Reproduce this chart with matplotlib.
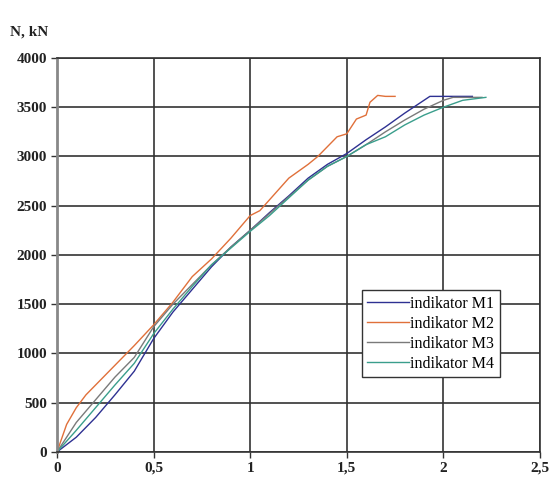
import numpy as np
import matplotlib
matplotlib.use('Agg')
import matplotlib.pyplot as plt

# displacement (mm) vs. force N (kN) for four indicators
x_m1 = [0, 0.1, 0.2, 0.3, 0.4, 0.5, 0.6, 0.7, 0.8, 0.9, 1.0, 1.1, 1.2, 1.3, 1.4, 1.5, 1.6, 1.7, 1.8, 1.93, 2.0, 2.1, 2.15]
n_m1 = [0, 150, 350, 580, 820, 1150, 1420, 1650, 1880, 2080, 2250, 2430, 2600, 2780, 2920, 3030, 3170, 3300, 3440, 3610, 3610, 3610, 3610]

x_m2 = [0, 0.05, 0.1, 0.15, 0.2, 0.3, 0.4, 0.5, 0.6, 0.7, 0.8, 0.9, 1.0, 1.05, 1.1, 1.2, 1.3, 1.35, 1.45, 1.5, 1.55, 1.6, 1.62, 1.66, 1.7, 1.75]
n_m2 = [0, 280, 450, 580, 680, 880, 1080, 1290, 1520, 1780, 1960, 2170, 2400, 2450, 2560, 2780, 2920, 3000, 3200, 3230, 3380, 3420, 3550, 3620, 3610, 3610]

x_m3 = [0, 0.1, 0.2, 0.3, 0.4, 0.5, 0.6, 0.7, 0.8, 0.9, 1.0, 1.1, 1.2, 1.3, 1.4, 1.5, 1.6, 1.7, 1.8, 1.9, 2.0, 2.05, 2.2]
n_m3 = [0, 300, 530, 760, 960, 1270, 1500, 1700, 1900, 2080, 2250, 2420, 2590, 2760, 2900, 3000, 3120, 3250, 3370, 3480, 3570, 3600, 3600]

x_m4 = [0, 0.1, 0.2, 0.3, 0.4, 0.5, 0.6, 0.7, 0.8, 0.9, 1.0, 1.1, 1.2, 1.3, 1.4, 1.5, 1.6, 1.7, 1.8, 1.9, 2.0, 2.1, 2.22]
n_m4 = [0, 220, 450, 680, 900, 1200, 1450, 1680, 1900, 2070, 2240, 2400, 2580, 2760, 2900, 3000, 3120, 3200, 3320, 3420, 3500, 3570, 3600]

labels = ['indikator M1', 'indikator M2', 'indikator M3', 'indikator M4']
x_ticks = [0, 0.5, 1, 1.5, 2, 2.5]
x_tick_labels = ['0', '0,5', '1', '1,5', '2', '2,5']
y_ticks = [0, 500, 1000, 1500, 2000, 2500, 3000, 3500, 4000]

plt.rcParams['font.family'] = ['Liberation Serif', 'DejaVu Serif']

fig = plt.figure(figsize=(5.51, 4.79), dpi=100)
ax = fig.add_axes([0.1034, 0.0564, 0.8766, 0.8226])

ax.plot(x_m1, n_m1, color='#2e3192', lw=1.0, label=labels[0])
ax.plot(x_m2, n_m2, color='#e0703a', lw=1.0, label=labels[1])
ax.plot(x_m3, n_m3, color='#7a7a7a', lw=1.0, label=labels[2])
ax.plot(x_m4, n_m4, color='#3a9e8c', lw=1.0, label=labels[3])

ax.set_xlim(0, 2.5)
ax.set_ylim(0, 4000)
ax.set_xticks(x_ticks)
ax.set_xticklabels(x_tick_labels)
ax.set_yticks(y_ticks)
ax.tick_params(direction='out', length=4, width=1, colors='#333333', labelsize=11, pad=3)
for lab in ax.get_xticklabels() + ax.get_yticklabels():
    lab.set_fontweight('bold')
    lab.set_color('#222222')

ax.grid(True, color='#333333', lw=1.2)
for s in ax.spines.values():
    s.set_color('#333333')
    s.set_linewidth(1.2)
ax.spines['left'].set_color('#888888')
ax.spines['left'].set_linewidth(2)

leg = ax.legend(loc='lower left', bbox_to_anchor=(0.631, 0.19), borderaxespad=0,
                fontsize=11.5, handlelength=2.6, handletextpad=0.1, labelspacing=0.25,
                borderpad=0.35, fancybox=False, framealpha=1, edgecolor='#333333')
leg.get_frame().set_linewidth(1.0)

fig.text(0.018, 0.925, 'N, kN', fontsize=11, fontweight='bold', color='#222222')

fig.savefig('out.png', dpi=100)
